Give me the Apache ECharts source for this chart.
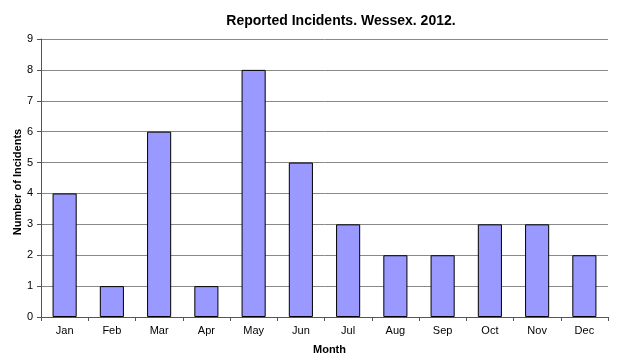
<!DOCTYPE html>
<html>
<head>
<meta charset="utf-8">
<script src="https://cdn.jsdelivr.net/npm/echarts@6/dist/echarts.min.js"></script>
<style>
  html, body { margin: 0; padding: 0; background: #fff; }
  #chart { width: 618px; height: 360px; }
</style>
</head>
<body>
<div id="chart"></div>
<script>
// Monthly incident counts
const months = ['Jan', 'Feb', 'Mar', 'Apr', 'May', 'Jun', 'Jul', 'Aug', 'Sep', 'Oct', 'Nov', 'Dec'];
const incidents = [4, 1, 6, 1, 8, 5, 3, 2, 2, 3, 3, 2];

const chart = echarts.init(document.getElementById('chart'));
const font = 'Arial, "Liberation Sans", sans-serif';

chart.setOption({
  animation: false,
  backgroundColor: '#ffffff',
  title: {
    text: 'Reported Incidents. Wessex. 2012.',
    left: 336,
    top: 9,
    textAlign: 'center',
    textStyle: { fontFamily: font, fontSize: 14, fontWeight: 'bold', color: '#000' }
  },
  grid: { left: 41, right: 10, top: 39, bottom: 43, containLabel: false, outerBoundsMode: 'none' },
  xAxis: {
    type: 'category',
    data: months,
    name: 'Month',
    nameLocation: 'middle',
    nameGap: 27,
    nameTextStyle: { fontFamily: font, fontSize: 11, fontWeight: 'bold', color: '#000', padding: [0, 0, 0, 10] },
    axisLine: { lineStyle: { color: '#555', width: 1 } },
    axisTick: { show: true, length: 4, lineStyle: { color: '#555' } },
    axisLabel: { fontFamily: font, fontSize: 11, color: '#000', margin: 8 },
    splitLine: { show: false }
  },
  yAxis: {
    type: 'value',
    min: 0,
    max: 9,
    interval: 1,
    name: 'Number of Incidents',
    nameLocation: 'middle',
    nameGap: 18,
    nameMoveOverlap: false,
    nameRotate: 90,
    nameTextStyle: { fontFamily: font, fontSize: 11, fontWeight: 'bold', color: '#000', padding: [0, 8, 0, 0] },
    axisLine: { show: true, lineStyle: { color: '#555', width: 1 } },
    axisTick: { show: true, length: 4, lineStyle: { color: '#555' } },
    axisLabel: { fontFamily: font, fontSize: 11, color: '#000', margin: 8 },
    splitLine: { show: true, lineStyle: { color: '#888', width: 1 } }
  },
  series: [{
    type: 'bar',
    data: incidents,
    barWidth: '51%',
    itemStyle: { color: '#9999ff', borderColor: '#000', borderWidth: 1 }
  }]
});
</script>
</body>
</html>
